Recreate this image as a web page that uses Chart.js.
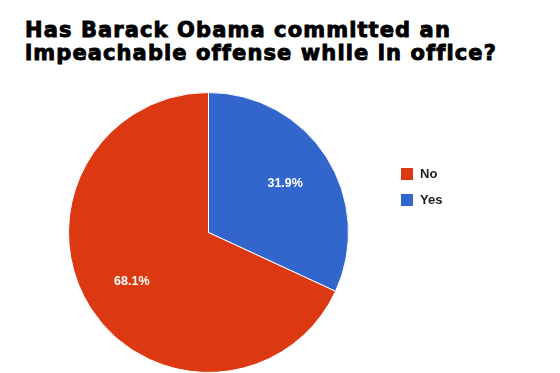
<!DOCTYPE html>
<html>
<head>
<meta charset="utf-8">
<script src="https://cdn.jsdelivr.net/npm/chart.js@4"></script>
<style>
  html, body { margin: 0; padding: 0; background: #fff; }
  body { width: 560px; height: 373px; position: relative; overflow: hidden; }
  #title {
    position: absolute; left: 25px; top: 19px;
    font: bold 21px/23px "DejaVu Sans", "Liberation Sans", sans-serif;
    -webkit-text-stroke: 0.9px #000;
    letter-spacing: 1.1px;
    color: #000; white-space: nowrap;
  }
  #wrap { position: absolute; left: 0; top: 92px; width: 417px; height: 281px; }
  #legend { position: absolute; left: 401px; top: 166px; font: bold 13px "Liberation Sans", Arial, sans-serif; color: #222; }
  .item { height: 26px; display: flex; align-items: flex-start; }
  .box { width: 12px; height: 12px; margin-right: 7px; margin-top: 2px; }
</style>
</head>
<body>
<div id="title">Has Barack Obama committed an<br>impeachable offense while in office?</div>
<div id="wrap"><canvas id="chart"></canvas></div>
<div id="legend"></div>
<script>
/* =========================
   DATA
========================= */
const labels = ["Yes", "No"];
const values = [31.9, 68.1];
const colors = ["#3366cc", "#dc3912"];
const valueLabels = ["31.9%", "68.1%"];

/* =========================
   SLICE LABELS
========================= */
const sliceLabels = {
  id: "sliceLabels",
  afterDatasetsDraw(chart) {
    const ctx = chart.ctx;
    const meta = chart.getDatasetMeta(0);
    ctx.save();
    ctx.fillStyle = "#fff";
    ctx.font = "bold 12.5px 'Liberation Sans', Arial, sans-serif";
    ctx.textAlign = "center";
    ctx.textBaseline = "middle";
    meta.data.forEach((arc, i) => {
      const p = arc.getProps(["x", "y", "startAngle", "endAngle", "outerRadius"], true);
      const mid = (p.startAngle + p.endAngle) / 2;
      const r = p.outerRadius * 0.65;
      ctx.fillText(valueLabels[i], p.x + Math.cos(mid) * r, p.y + Math.sin(mid) * r);
    });
    ctx.restore();
  }
};

/* =========================
   CHART
========================= */
new Chart(document.getElementById("chart"), {
  type: "pie",
  data: {
    labels: labels,
    datasets: [{
      data: values,
      backgroundColor: colors,
      borderColor: "#fff",
      borderWidth: 1
    }]
  },
  options: {
    responsive: true,
    maintainAspectRatio: false,
    animation: false,
    layout: { padding: 0 },
    plugins: {
      legend: { display: false },
      tooltip: { enabled: false }
    }
  },
  plugins: [sliceLabels]
});

/* =========================
   LEGEND (No first, like the original)
========================= */
const legend = document.getElementById("legend");
labels.map((l, i) => i).reverse().forEach(i => {
  legend.innerHTML += `<div class="item"><div class="box" style="background:${colors[i]}"></div><span>${labels[i]}</span></div>`;
});
</script>
</body>
</html>
